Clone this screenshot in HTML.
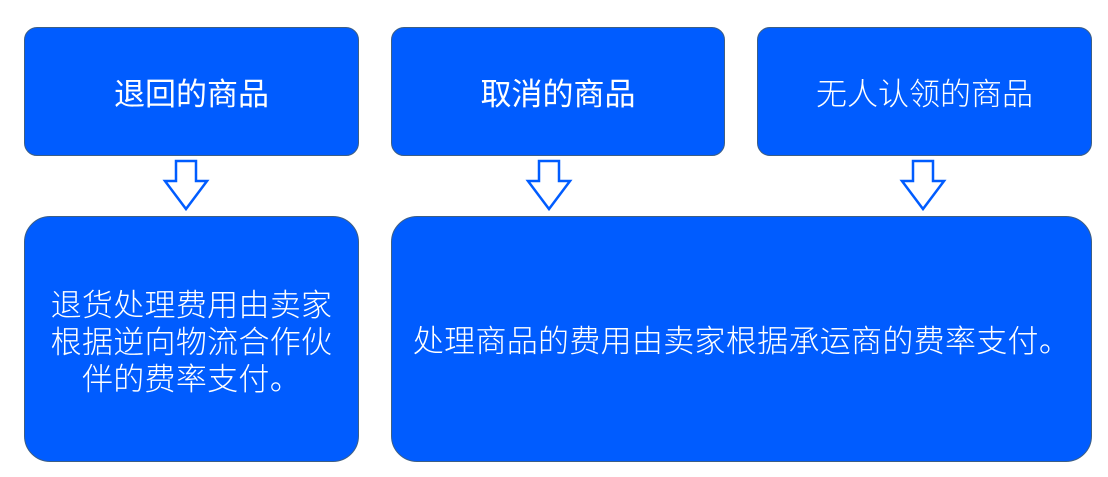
<!DOCTYPE html>
<html><head><meta charset="utf-8"><style>
body{margin:0;width:1108px;height:477px;background:#fff;position:relative;overflow:hidden;font-family:"Liberation Sans","Noto Sans CJK SC",sans-serif;}
.b{position:absolute;background:#005cff;border:1.5px solid #3d5f85;box-sizing:border-box;color:#fff;display:flex;align-items:center;justify-content:center;text-align:center;}
.t{border-radius:13px;font-size:31px;top:27px;height:129px;}
.l{border-radius:26px;top:216px;height:246px;font-size:31px;font-weight:300;letter-spacing:0.3px;}
svg{position:absolute;left:0;top:0}
</style></head><body>
<div class="b t" style="left:24px;width:335px">退回的商品</div>
<div class="b t" style="left:391px;width:334px">取消的商品</div>
<div class="b t" style="left:757px;width:335px;font-weight:300">无人认领的商品</div>
<div class="b l" style="left:24px;width:335px;line-height:37px;padding-top:6px">退货处理费用由卖家<br>根据逆向物流合作伙<br>伴的费率支付。</div>
<div class="b l" style="left:391px;width:701px;padding-bottom:2px">处理商品的费用由卖家根据承运商的费率支付。</div>
<svg width="1108" height="477">
<g fill="#fff" stroke="#005cff" stroke-width="2.5">
<polygon points="176,161 196,161 196,181 207,181 186,209 165,181 176,181"/>
<polygon points="539,161 559,161 559,181 570,181 549,209 528,181 539,181"/>
<polygon points="913,161 933,161 933,181 944,181 923,209 902,181 913,181"/>
</g></svg>
</body></html>
